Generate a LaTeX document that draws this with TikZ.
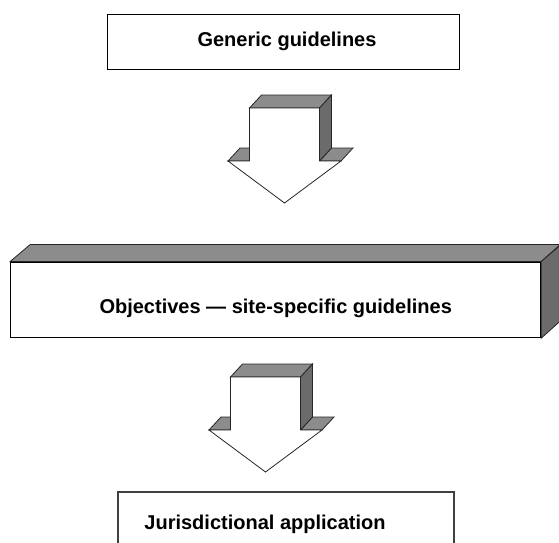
\documentclass[tikz,border=0pt]{standalone}
\usepackage{fontspec}
\setmainfont{Liberation Sans}
\usepackage{tikz}

\definecolor{topface}{gray}{0.55}
\definecolor{sideface}{gray}{0.42}

\begin{document}
\begin{tikzpicture}[x=1pt,y=-1pt,
  label/.style={font=\fontsize{20}{24}\selectfont\bfseries,inner sep=0pt},
  box/.style={draw=black,line width=1pt,inner sep=0pt},
  face/.style={draw=black!85,line width=0.8pt,line join=miter}]
\useasboundingbox (0,0) rectangle (559,542);
\clip (0,0) rectangle (559,542);
% top box
\node[box,minimum width=352pt,minimum height=55pt] (generic) at (283,41.5) {};
\node[label] (generictext) at ([xshift=4pt]generic.center) {Generic guidelines};
% block arrows
\foreach \cx/\ty in {284.5/108, 265.5/377}
{
\fill[face,fill=topface] (\cx-56.5,\ty+53) -- (\cx-35,\ty+53) -- (\cx-23,\ty+40)
      -- (\cx-44.5,\ty+40) -- cycle;
\fill[face,fill=topface] (\cx+35,\ty+53) -- (\cx+56.5,\ty+53) -- (\cx+68.5,\ty+40)
      -- (\cx+47,\ty+40) -- cycle;
\filldraw[face,fill=topface] (\cx-35,\ty) -- (\cx+35,\ty) -- (\cx+47,\ty-13)
      -- (\cx-23,\ty-13) -- cycle;
\filldraw[face,fill=sideface] (\cx+35,\ty) -- (\cx+47,\ty-13) -- (\cx+47,\ty+40)
      -- (\cx+35,\ty+53) -- cycle;
\filldraw[face,fill=white] (\cx-35,\ty) -- (\cx+35,\ty) -- (\cx+35,\ty+53)
      -- (\cx+56.5,\ty+53) -- (\cx,\ty+95) -- (\cx-56.5,\ty+53)
      -- (\cx-35,\ty+53) -- cycle;
}
% middle slab
\node[box,minimum width=530pt,minimum height=75.7pt] (objectives) at (275.7,299.85) {};
\filldraw[face,fill=topface] (objectives.north west) -- ++(20,-17) -- ++(530,0)
      -- (objectives.north east) -- cycle;
\filldraw[face,fill=sideface] (objectives.north east) -- ++(20,-17) -- ++(0,75.7)
      -- (objectives.south east) -- cycle;
\node[label] (objectivestext) at ([yshift=-9pt]objectives.center)
      {Objectives --- site-specific guidelines};
% bottom box
\node[box,draw=black!75,line width=1.3pt,minimum width=336pt,minimum height=70pt]
      (jurisdiction) at (286,527) {};
\node[label] (jurisdictiontext) at (265,524) {Jurisdictional application};
\end{tikzpicture}
\end{document}
